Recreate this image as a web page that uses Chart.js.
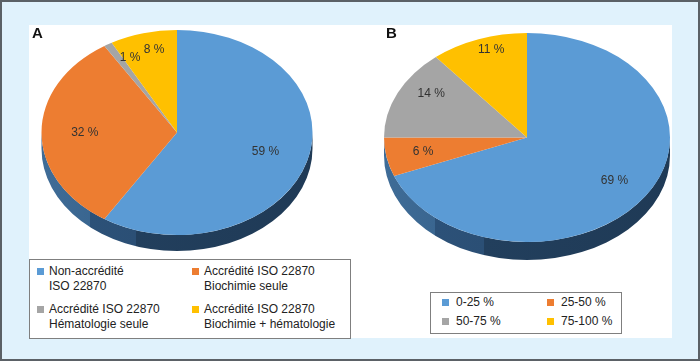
<!DOCTYPE html>
<html>
<head>
<meta charset="utf-8">
<script src="https://cdn.jsdelivr.net/npm/chart.js@4"></script>
<style>
  body { margin: 0; font-family: "Liberation Sans", Arial, sans-serif; }
  #frame { position: relative; width: 700px; height: 361px; box-sizing: border-box;
           border: 2px solid #5b6166; background: #e0f2fc; overflow: hidden; }
  #panel { position: absolute; left: 27px; top: 23px; width: 643px; height: 313px; background: #fff; }
  canvas { position: absolute; left: -2px; top: -2px; }
  .tag { position: absolute; font-weight: bold; font-size: 15px; color: #111; }
  .legend { position: absolute; border: 1px solid #7f7f7f; background: #fff; box-sizing: border-box;
            display: grid; font-size: 12px; color: #222; line-height: 15px; align-content: start; }
  .item { position: relative; white-space: nowrap; }
  .item i { position: absolute; width: 7px; height: 7px; }
</style>
</head>
<body>
<div id="frame">
  <div id="panel"></div>
  <canvas id="pieA" width="700" height="361"></canvas>
  <canvas id="pieB" width="700" height="361"></canvas>
  <div class="tag" style="left:30px; top:22px;">A</div>
  <div class="tag" style="left:384px; top:22px;">B</div>
  <div id="legA" class="legend" style="left:27px; top:257px; width:322px; height:80px; padding:4px 0 0 7px;"></div>
  <div id="legB" class="legend" style="left:428px; top:290px; width:192px; height:42px; padding:2px 0 0 11px;"></div>
</div>
<script>
/* Data */
const labelsA = [
  ['Non-accrédité', 'ISO 22870'],
  ['Accrédité ISO 22870', 'Biochimie seule'],
  ['Accrédité ISO 22870', 'Hématologie seule'],
  ['Accrédité ISO 22870', 'Biochimie + hématologie']
];
const valuesA = [59, 32, 1, 8];

const labelsB = ['0-25 %', '25-50 %', '50-75 %', '75-100 %'];
const valuesB = [69, 6, 14, 11];

const colors = ['#5b9bd5', '#ed7d31', '#a5a5a5', '#ffc000'];

/* Fake 3D: squash the pie into an ellipse and add a side band */
const pie3d = {
  id: 'pie3d',
  beforeDatasetsDraw(chart, args, o) {
    const a = chart.getDatasetMeta(0).data[0];
    const R = a.outerRadius, x = a.x, y = a.y;
    const ctx = chart.ctx;
    ctx.save();
    ctx.translate(o.cx, o.cy);
    ctx.scale(o.rx / R, o.ry / R);
    ctx.translate(-x, -y);
    const d = o.depth * R / o.ry;
    const g = ctx.createLinearGradient(x - R, 0, x + R, 0);
    g.addColorStop(0, '#3f6c97');
    g.addColorStop(0.18, '#3a6690');
    g.addColorStop(0.18, '#2c5178');
    g.addColorStop(0.35, '#2b4f75');
    g.addColorStop(0.35, '#223f5d');
    g.addColorStop(1, '#1f3a56');
    ctx.beginPath();
    ctx.arc(x, y, R, 0, Math.PI);
    ctx.arc(x, y + d, R, Math.PI, 0, true);
    ctx.closePath();
    ctx.fillStyle = g;
    ctx.fill();
  },
  afterDatasetsDraw(chart, args, o) {
    const ctx = chart.ctx;
    ctx.restore();
    const data = chart.data.datasets[0].data;
    ctx.save();
    ctx.font = '12px "Liberation Sans", Arial, sans-serif';
    ctx.fillStyle = '#333';
    ctx.textAlign = 'center';
    ctx.textBaseline = 'middle';
    chart.getDatasetMeta(0).data.forEach((arc, i) => {
      const m = (arc.startAngle + arc.endAngle) / 2;
      const s = Math.sin(m);
      const px = o.cx + o.rx * o.f * Math.cos(m);
      const py = o.cy + o.ry * o.f * s + o.dy * Math.sqrt(Math.max(0, -s));
      ctx.fillText(data[i] + ' %', px, py);
    });
    ctx.restore();
  }
};

function makePie(id, labels, values, geo) {
  return new Chart(document.getElementById(id), {
    type: 'pie',
    data: {
      labels: labels,
      datasets: [{ data: values, backgroundColor: colors, borderWidth: 0, clip: false }]
    },
    options: {
      responsive: false,
      animation: false,
      events: [],
      layout: { padding: 0 },
      plugins: { legend: { display: false }, tooltip: { enabled: false }, pie3d: geo }
    },
    plugins: [pie3d]
  });
}

makePie('pieA', labelsA, valuesA, { cx: 177, cy: 132.5, rx: 135.5, ry: 102.5, depth: 16, f: 0.68, dy: -16 });
makePie('pieB', labelsB, valuesB, { cx: 527, cy: 137.5, rx: 143, ry: 104.5, depth: 18, f: 0.74, dy: -16 });

/* Legends */
function makeLegend(id, labels, colWidth, rowGap, textGap) {
  const box = document.getElementById(id);
  box.style.gridTemplateColumns = colWidth + 'px auto';
  box.style.rowGap = rowGap + 'px';
  labels.forEach((lab, i) => {
    const lines = Array.isArray(lab) ? lab : [lab];
    const it = document.createElement('div');
    it.className = 'item';
    it.style.paddingLeft = (7 + textGap) + 'px';
    it.innerHTML = '<i style="background:' + colors[i] + ';left:0;top:4px"></i>' + lines.join('<br>');
    box.appendChild(it);
  });
}
makeLegend('legA', labelsA, 155, 8, 5);
makeLegend('legB', labelsB, 105, 4, 7);
</script>
</body>
</html>
